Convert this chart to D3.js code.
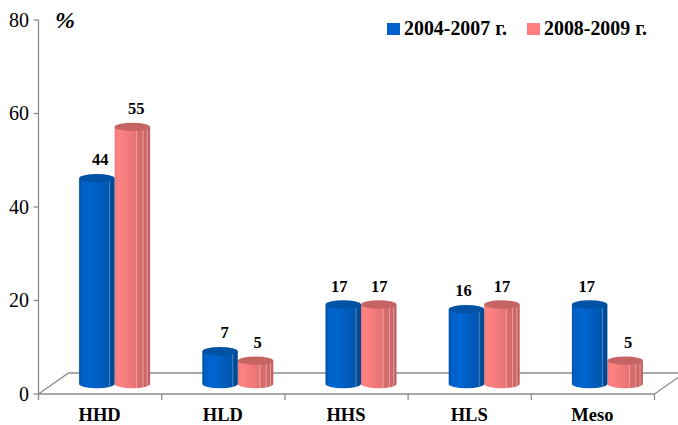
<!DOCTYPE html>
<html>
<head>
<meta charset="utf-8">
<script src="https://cdn.jsdelivr.net/npm/d3@7/dist/d3.min.js"></script>
<style>
html,body{margin:0;padding:0;background:#fff;}
svg{display:block;}
text{font-family:"Liberation Serif",serif;fill:#000;}
</style>
</head>
<body>
<svg id="chart" width="678" height="425"></svg>
<script>
const categories = ["HHD", "HLD", "HHS", "HLS", "Meso"];
const seriesNames = ["2004-2007 г.", "2008-2009 г."];
const values2004 = [44, 7, 17, 16, 17];
const values2008 = [55, 5, 17, 17, 5];
const yTicks = [0, 20, 40, 60, 80];

const svg = d3.select("#chart");
const x = d3.scaleBand().domain(categories).range([38.5, 654.5]);
const y = d3.scaleLinear().domain([0, 80]).range([394, 20]);

// Oblique offset of the chart floor, and where columns stand on it
const depthX = 30, depthY = 21;
const barShiftX = 14.5, barShiftY = 10;
const barW = 35.5, ry = 4.2;
const axisColor = "#8c8c8c";

const palettes = [
  {stops: [[0, "#0050a8"], [0.08, "#0060c4"], [0.3, "#0066d2"], [0.6, "#005cbc"], [0.86, "#0054ac"], [0.87, "#004d9a"], [1, "#00498f"]],
   top: "#0052a4", line: "#5f93cf"},
  {stops: [[0, "#f47a7a"], [0.12, "#ff8282"], [0.34, "#f47c7c"], [0.62, "#e47272"], [0.63, "#dc6e6e"], [0.8, "#d06868"], [0.92, "#c86464"], [1, "#bc5e5e"]],
   top: "#c66464", line: "#f0b0b0"}
];

// Faceted column shading, one gradient per series
const defs = svg.append("defs");
palettes.forEach((p, i) => {
  const g = defs.append("linearGradient").attr("id", "col" + i)
    .attr("x1", 0).attr("x2", 1).attr("y1", 0).attr("y2", 0);
  p.stops.forEach(([o, c]) => g.append("stop").attr("offset", o).attr("stop-color", c));
});

// Floor and axes
const axisG = svg.append("g").attr("fill", "none").attr("stroke", axisColor).attr("stroke-width", 1.3);
const floorL = x.range()[0], floorR = x.range()[1], base = y(0);
axisG.append("path").attr("d", d3.line()([[floorL, base], [floorL + depthX, base - depthY], [678, base - depthY]]));
axisG.append("path").attr("d", d3.line()([[floorR, base], [floorR + depthX, base - depthY]]));
axisG.append("path").attr("d", d3.line()([[floorL, y(80)], [floorL, base], [floorR, base]]));

yTicks.forEach(t => {
  axisG.append("line").attr("x1", floorL - 5).attr("x2", floorL).attr("y1", y(t)).attr("y2", y(t));
  svg.append("text").attr("x", 29).attr("y", y(t) + 6.5).attr("text-anchor", "end")
    .attr("font-size", 20).text(t);
});
categories.concat([null]).forEach((c, i) => {
  const px = floorL + i * x.step();
  axisG.append("line").attr("x1", px).attr("x2", px).attr("y1", base).attr("y2", base + 6);
});
categories.forEach(c => {
  svg.append("text").attr("x", x(c) + x.bandwidth() / 2 - 0.5).attr("y", 421)
    .attr("text-anchor", "middle").attr("font-weight", "bold").attr("font-size", 18.5).text(c);
});

// Columns
function drawColumn(cx, v, s) {
  const p = palettes[s];
  const x0 = cx - barW / 2, x1 = cx + barW / 2;
  const topY = y(v) - barShiftY, botY = y(0) - barShiftY;
  const g = svg.append("g");
  g.append("path")
    .attr("d", `M${x0},${topY}L${x0},${botY}A${barW / 2},${ry} 0 0 0 ${x1},${botY}L${x1},${topY}Z`)
    .attr("fill", `url(#col${s})`);
  // facet seams
  const seams = s === 0 ? [0.86] : [0.62, 0.8, 0.92];
  seams.forEach(f => {
    const sx = x0 + f * barW;
    const dy = ry * Math.sqrt(1 - Math.pow(2 * f - 1, 2));
    g.append("line").attr("x1", sx).attr("x2", sx)
      .attr("y1", topY + dy).attr("y2", botY + dy)
      .attr("stroke", p.line).attr("stroke-width", 0.8);
  });
  g.append("ellipse").attr("cx", cx).attr("cy", topY).attr("rx", barW / 2).attr("ry", ry)
    .attr("fill", p.top);
}

// Hand placement of the value labels around the column centres
const labelNudge2004 = [3.5, 4.5, -4, -3, -3];
const labelNudge2008 = [4, 2, 0.5, 0, 3];

categories.forEach((c, i) => {
  const mid = x(c) + x.bandwidth() / 2 + barShiftX;
  [values2008, values2004].forEach((vals, k) => {
    const s = 1 - k;
    const cx = s === 0 ? mid - barW / 2 : mid + barW / 2;
    drawColumn(cx, vals[i], s);
  });
});
categories.forEach((c, i) => {
  const mid = x(c) + x.bandwidth() / 2 + barShiftX;
  [[values2004, labelNudge2004, -1], [values2008, labelNudge2008, 1]].forEach(([vals, nudge, dir]) => {
    svg.append("text")
      .attr("x", mid + dir * barW / 2 + nudge[i])
      .attr("y", y(vals[i]) - barShiftY - 13)
      .attr("text-anchor", "middle").attr("font-weight", "bold").attr("font-size", 16.5)
      .text(vals[i]);
  });
});

// Unit mark
svg.append("text").attr("x", 55).attr("y", 28).attr("font-size", 24)
  .attr("font-weight", "bold").attr("font-style", "italic").text("%");

// Legend
const legendX = [387, 527];
seriesNames.forEach((n, i) => {
  svg.append("rect").attr("x", legendX[i]).attr("y", 23).attr("width", 13).attr("height", 12)
    .attr("fill", i === 0 ? "#0060cc" : "#ff8080");
  svg.append("text").attr("x", legendX[i] + 17).attr("y", 35)
    .attr("font-weight", "bold").attr("font-size", 19.9).text(n);
});
</script>
</body>
</html>
